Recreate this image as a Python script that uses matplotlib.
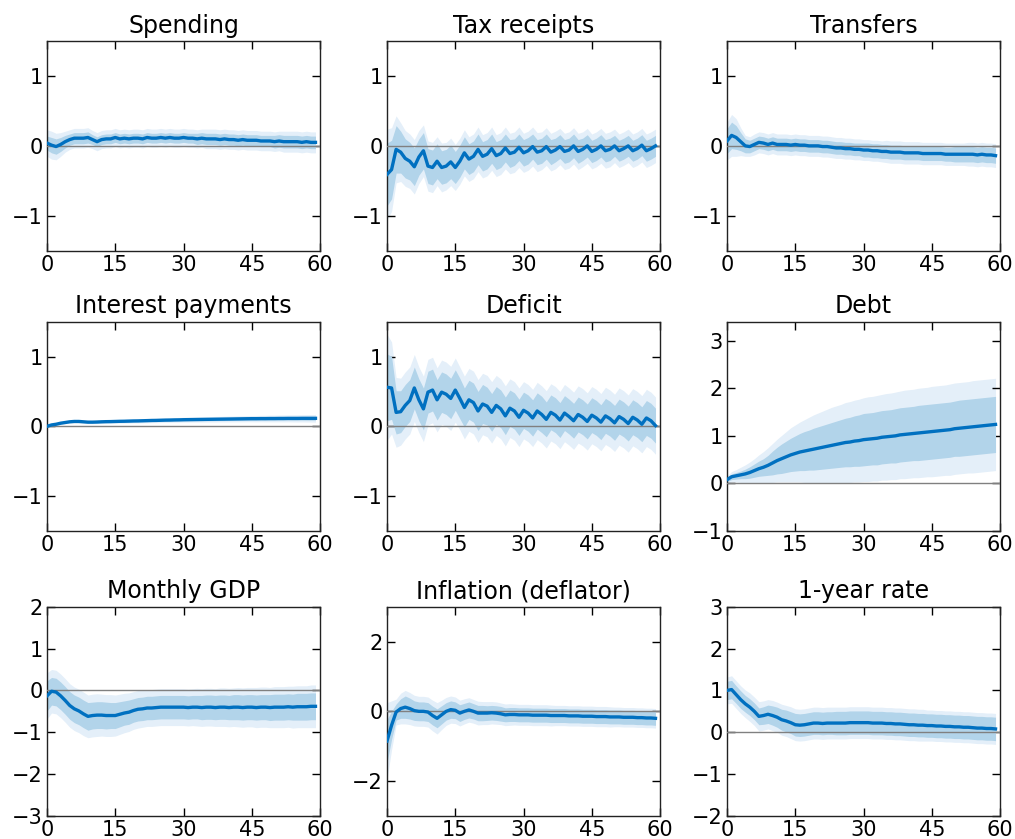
import numpy as np
import matplotlib.pyplot as plt

plt.rcParams['font.family'] = 'DejaVu Sans'
plt.rcParams['font.size'] = 15

# impulse responses by month, median and half-widths of the 68% / 90% bands
months = np.arange(60)

titles = ['Spending', 'Tax receipts', 'Transfers',
          'Interest payments', 'Deficit', 'Debt',
          'Monthly GDP', 'Inflation (deflator)', '1-year rate']

spending_med = [0.04, 0.01, -0.01, 0.02, 0.06, 0.09, 0.11, 0.11, 0.11, 0.12,
                0.09, 0.06, 0.09, 0.10, 0.10, 0.12, 0.10, 0.11, 0.10, 0.11,
                0.11, 0.10, 0.12, 0.11, 0.11, 0.12, 0.11, 0.12, 0.11, 0.11,
                0.12, 0.11, 0.11, 0.10, 0.11, 0.10, 0.10, 0.10, 0.09, 0.10,
                0.09, 0.09, 0.08, 0.09, 0.08, 0.08, 0.08, 0.07, 0.07, 0.07,
                0.06, 0.07, 0.06, 0.06, 0.06, 0.06, 0.05, 0.06, 0.05, 0.05]
spending_h68 = [0.10, 0.11, 0.11, 0.10, 0.09, 0.08, 0.08, 0.08, 0.08, 0.08,
                0.07, 0.07, 0.07, 0.07, 0.07, 0.07, 0.07, 0.07, 0.07, 0.07,
                0.07, 0.07, 0.07, 0.07, 0.07, 0.07, 0.07, 0.07, 0.07, 0.07,
                0.07, 0.07, 0.07, 0.08, 0.08, 0.08, 0.08, 0.08, 0.08, 0.08,
                0.08, 0.08, 0.08, 0.08, 0.08, 0.08, 0.08, 0.08, 0.08, 0.08,
                0.09, 0.09, 0.09, 0.09, 0.09, 0.09, 0.09, 0.09, 0.09, 0.09]
spending_h90 = [0.19, 0.20, 0.19, 0.17, 0.15, 0.14, 0.14, 0.14, 0.14, 0.14,
                0.13, 0.13, 0.13, 0.13, 0.13, 0.13, 0.13, 0.13, 0.13, 0.13,
                0.13, 0.13, 0.13, 0.13, 0.13, 0.13, 0.13, 0.13, 0.13, 0.13,
                0.13, 0.13, 0.13, 0.13, 0.13, 0.14, 0.14, 0.14, 0.14, 0.14,
                0.14, 0.14, 0.14, 0.14, 0.14, 0.14, 0.14, 0.14, 0.14, 0.14,
                0.14, 0.14, 0.15, 0.15, 0.15, 0.15, 0.15, 0.15, 0.15, 0.15]

tax_med = [-0.41, -0.34, -0.05, -0.09, -0.18, -0.22, -0.30, -0.16, -0.07, -0.29,
           -0.31, -0.22, -0.31, -0.29, -0.23, -0.31, -0.22, -0.10, -0.19, -0.15,
           -0.05, -0.15, -0.12, -0.04, -0.14, -0.11, -0.03, -0.11, -0.09, -0.02,
           -0.10, -0.07, -0.01, -0.09, -0.07, -0.01, -0.09, -0.06, -0.01, -0.08,
           -0.06, 0.00, -0.08, -0.05, 0.00, -0.08, -0.05, 0.00, -0.07, -0.05,
           0.00, -0.07, -0.04, 0.00, -0.07, -0.04, 0.01, -0.07, -0.04, 0.00]
tax_h68 = [0.45, 0.42, 0.34, 0.30, 0.28, 0.27, 0.27, 0.26, 0.26, 0.25,
           0.25, 0.25, 0.24, 0.24, 0.24, 0.23, 0.23, 0.23, 0.22, 0.22,
           0.22, 0.21, 0.21, 0.21, 0.20, 0.20, 0.20, 0.20, 0.19, 0.19,
           0.19, 0.19, 0.18, 0.18, 0.18, 0.18, 0.18, 0.17, 0.17, 0.17,
           0.17, 0.17, 0.17, 0.16, 0.16, 0.16, 0.16, 0.16, 0.16, 0.16,
           0.15, 0.15, 0.15, 0.15, 0.15, 0.15, 0.15, 0.15, 0.15, 0.15]
tax_h90 = [0.65, 0.60, 0.48, 0.42, 0.40, 0.39, 0.39, 0.38, 0.37, 0.36,
           0.36, 0.35, 0.35, 0.34, 0.34, 0.33, 0.33, 0.33, 0.32, 0.32,
           0.32, 0.31, 0.31, 0.31, 0.30, 0.30, 0.30, 0.29, 0.29, 0.29,
           0.28, 0.28, 0.28, 0.28, 0.27, 0.27, 0.27, 0.27, 0.26, 0.26,
           0.26, 0.26, 0.26, 0.25, 0.25, 0.25, 0.25, 0.25, 0.25, 0.25,
           0.24, 0.24, 0.24, 0.24, 0.24, 0.24, 0.24, 0.24, 0.24, 0.24]

transfers_med = [0.07, 0.15, 0.12, 0.06, 0.00, -0.01, 0.02, 0.05, 0.04, 0.02,
                 0.04, 0.02, 0.02, 0.02, 0.01, 0.02, 0.01, 0.01, 0.00, 0.00,
                 0.00, -0.01, -0.01, -0.02, -0.03, -0.03, -0.04, -0.04, -0.05, -0.05,
                 -0.06, -0.06, -0.07, -0.07, -0.08, -0.08, -0.09, -0.09, -0.09, -0.10,
                 -0.10, -0.10, -0.10, -0.11, -0.11, -0.11, -0.11, -0.11, -0.12, -0.12,
                 -0.12, -0.12, -0.12, -0.12, -0.12, -0.13, -0.12, -0.13, -0.13, -0.14]
transfers_h68 = [0.18, 0.19, 0.17, 0.13, 0.10, 0.09, 0.09, 0.09, 0.09, 0.09,
                 0.09, 0.09, 0.09, 0.09, 0.09, 0.09, 0.09, 0.09, 0.09, 0.09,
                 0.09, 0.09, 0.09, 0.09, 0.09, 0.09, 0.09, 0.09, 0.09, 0.09,
                 0.10, 0.10, 0.10, 0.10, 0.10, 0.10, 0.10, 0.10, 0.10, 0.10,
                 0.10, 0.10, 0.10, 0.10, 0.10, 0.10, 0.10, 0.10, 0.10, 0.10,
                 0.11, 0.11, 0.11, 0.11, 0.11, 0.11, 0.11, 0.11, 0.11, 0.11]
transfers_h90 = [0.27, 0.30, 0.27, 0.20, 0.15, 0.14, 0.15, 0.15, 0.15, 0.15,
                 0.15, 0.15, 0.15, 0.15, 0.15, 0.15, 0.15, 0.15, 0.15, 0.15,
                 0.15, 0.15, 0.15, 0.15, 0.15, 0.15, 0.15, 0.15, 0.15, 0.15,
                 0.15, 0.15, 0.15, 0.15, 0.15, 0.16, 0.16, 0.16, 0.16, 0.16,
                 0.16, 0.16, 0.16, 0.16, 0.16, 0.16, 0.16, 0.16, 0.16, 0.16,
                 0.16, 0.16, 0.16, 0.17, 0.17, 0.17, 0.17, 0.17, 0.17, 0.17]

interest_med = [0.00, 0.02, 0.03, 0.045, 0.055, 0.065, 0.07, 0.07, 0.065, 0.06,
                0.06, 0.062, 0.065, 0.067, 0.068, 0.07, 0.072, 0.073, 0.075, 0.077,
                0.078, 0.08, 0.082, 0.084, 0.085, 0.087, 0.089, 0.09, 0.092, 0.093,
                0.095, 0.096, 0.097, 0.098, 0.099, 0.10, 0.101, 0.102, 0.103, 0.104,
                0.105, 0.106, 0.107, 0.108, 0.109, 0.11, 0.11, 0.111, 0.111, 0.112,
                0.112, 0.113, 0.113, 0.114, 0.114, 0.114, 0.115, 0.115, 0.115, 0.115]
interest_h68 = [0.003, 0.005, 0.006, 0.007, 0.008, 0.009, 0.010, 0.010, 0.010, 0.010,
                0.011, 0.011, 0.012, 0.012, 0.012, 0.013, 0.013, 0.013, 0.014, 0.014,
                0.014, 0.015, 0.015, 0.015, 0.016, 0.016, 0.016, 0.017, 0.017, 0.017,
                0.018, 0.018, 0.018, 0.019, 0.019, 0.019, 0.020, 0.020, 0.020, 0.021,
                0.021, 0.021, 0.022, 0.022, 0.022, 0.023, 0.023, 0.023, 0.024, 0.024,
                0.024, 0.025, 0.025, 0.025, 0.026, 0.026, 0.026, 0.027, 0.027, 0.027]
interest_h90 = [0.006, 0.010, 0.012, 0.014, 0.016, 0.017, 0.018, 0.019, 0.019, 0.020,
                0.021, 0.022, 0.022, 0.023, 0.024, 0.025, 0.025, 0.026, 0.027, 0.027,
                0.028, 0.029, 0.030, 0.030, 0.031, 0.032, 0.032, 0.033, 0.034, 0.034,
                0.035, 0.036, 0.036, 0.037, 0.038, 0.038, 0.039, 0.040, 0.040, 0.041,
                0.042, 0.042, 0.043, 0.044, 0.044, 0.045, 0.046, 0.046, 0.047, 0.048,
                0.048, 0.049, 0.050, 0.050, 0.051, 0.052, 0.052, 0.053, 0.054, 0.055]

deficit_med = [0.56, 0.55, 0.20, 0.21, 0.30, 0.37, 0.55, 0.38, 0.25, 0.49,
               0.52, 0.38, 0.49, 0.46, 0.40, 0.52, 0.40, 0.27, 0.38, 0.34,
               0.22, 0.32, 0.29, 0.20, 0.30, 0.25, 0.15, 0.26, 0.22, 0.13,
               0.23, 0.19, 0.12, 0.22, 0.17, 0.10, 0.20, 0.16, 0.09, 0.19,
               0.14, 0.08, 0.17, 0.13, 0.07, 0.16, 0.12, 0.06, 0.15, 0.11,
               0.05, 0.14, 0.10, 0.04, 0.13, 0.09, 0.03, 0.12, 0.08, 0.01]
deficit_h68 = [0.48, 0.45, 0.31, 0.30, 0.30, 0.30, 0.30, 0.30, 0.30, 0.30,
               0.30, 0.29, 0.29, 0.29, 0.29, 0.29, 0.29, 0.28, 0.28, 0.28,
               0.28, 0.28, 0.27, 0.27, 0.27, 0.27, 0.27, 0.26, 0.26, 0.26,
               0.26, 0.26, 0.26, 0.26, 0.26, 0.25, 0.25, 0.25, 0.25, 0.25,
               0.25, 0.25, 0.25, 0.25, 0.25, 0.25, 0.25, 0.25, 0.25, 0.25,
               0.25, 0.25, 0.25, 0.25, 0.25, 0.25, 0.25, 0.25, 0.25, 0.25]
deficit_h90 = [0.76, 0.66, 0.50, 0.48, 0.48, 0.48, 0.48, 0.47, 0.47, 0.47,
               0.47, 0.46, 0.46, 0.46, 0.46, 0.46, 0.45, 0.45, 0.45, 0.45,
               0.45, 0.44, 0.44, 0.44, 0.43, 0.43, 0.43, 0.42, 0.42, 0.42,
               0.41, 0.41, 0.41, 0.41, 0.41, 0.41, 0.41, 0.41, 0.41, 0.41,
               0.41, 0.41, 0.41, 0.41, 0.41, 0.41, 0.41, 0.41, 0.41, 0.41,
               0.41, 0.41, 0.41, 0.41, 0.41, 0.41, 0.41, 0.41, 0.41, 0.41]

debt_med = [0.08, 0.14, 0.16, 0.18, 0.20, 0.23, 0.27, 0.31, 0.34, 0.38,
            0.43, 0.48, 0.52, 0.56, 0.60, 0.63, 0.66, 0.68, 0.70, 0.72,
            0.74, 0.76, 0.78, 0.80, 0.82, 0.84, 0.86, 0.87, 0.89, 0.90,
            0.92, 0.93, 0.94, 0.95, 0.97, 0.98, 0.99, 1.00, 1.02, 1.03,
            1.04, 1.05, 1.06, 1.07, 1.08, 1.09, 1.10, 1.11, 1.12, 1.13,
            1.15, 1.16, 1.17, 1.18, 1.19, 1.20, 1.21, 1.22, 1.23, 1.24]
debt_h68 = [0.04, 0.06, 0.07, 0.08, 0.10, 0.12, 0.14, 0.16, 0.18, 0.21,
            0.25, 0.28, 0.31, 0.33, 0.35, 0.37, 0.39, 0.41, 0.42, 0.44,
            0.45, 0.46, 0.47, 0.48, 0.49, 0.50, 0.51, 0.52, 0.53, 0.54,
            0.55, 0.55, 0.55, 0.56, 0.56, 0.56, 0.56, 0.57, 0.57, 0.57,
            0.57, 0.57, 0.58, 0.58, 0.58, 0.58, 0.58, 0.58, 0.58, 0.58,
            0.58, 0.59, 0.59, 0.59, 0.59, 0.59, 0.59, 0.59, 0.59, 0.59]
debt_h90 = [0.08, 0.11, 0.13, 0.16, 0.19, 0.22, 0.25, 0.29, 0.33, 0.37,
            0.41, 0.45, 0.49, 0.53, 0.57, 0.60, 0.63, 0.66, 0.69, 0.72,
            0.74, 0.76, 0.78, 0.80, 0.81, 0.82, 0.84, 0.85, 0.86, 0.87,
            0.88, 0.89, 0.89, 0.90, 0.90, 0.91, 0.91, 0.92, 0.92, 0.93,
            0.93, 0.93, 0.94, 0.94, 0.94, 0.95, 0.95, 0.95, 0.95, 0.96,
            0.96, 0.96, 0.96, 0.96, 0.97, 0.97, 0.97, 0.97, 0.97, 0.97]

gdp_med = [-0.13, -0.02, -0.04, -0.13, -0.24, -0.36, -0.44, -0.49, -0.56, -0.62,
           -0.60, -0.59, -0.59, -0.60, -0.60, -0.60, -0.57, -0.54, -0.52, -0.48,
           -0.45, -0.44, -0.42, -0.42, -0.41, -0.40, -0.40, -0.40, -0.40, -0.40,
           -0.40, -0.41, -0.40, -0.40, -0.41, -0.40, -0.40, -0.41, -0.40, -0.40,
           -0.41, -0.40, -0.40, -0.41, -0.40, -0.40, -0.41, -0.40, -0.40, -0.41,
           -0.40, -0.40, -0.40, -0.39, -0.40, -0.39, -0.39, -0.39, -0.38, -0.38]
gdp_h68 = [0.36, 0.33, 0.33, 0.33, 0.33, 0.33, 0.33, 0.33, 0.33, 0.33,
           0.32, 0.32, 0.32, 0.32, 0.31, 0.31, 0.30, 0.29, 0.29, 0.28,
           0.28, 0.28, 0.28, 0.28, 0.28, 0.28, 0.28, 0.28, 0.28, 0.28,
           0.28, 0.28, 0.28, 0.28, 0.29, 0.29, 0.29, 0.29, 0.29, 0.29,
           0.29, 0.30, 0.30, 0.30, 0.30, 0.30, 0.30, 0.30, 0.30, 0.31,
           0.31, 0.31, 0.31, 0.31, 0.31, 0.32, 0.32, 0.32, 0.32, 0.32]
gdp_h90 = [0.55, 0.52, 0.52, 0.52, 0.52, 0.52, 0.52, 0.52, 0.52, 0.51,
           0.51, 0.51, 0.50, 0.50, 0.50, 0.49, 0.48, 0.47, 0.46, 0.45,
           0.45, 0.44, 0.44, 0.44, 0.44, 0.44, 0.44, 0.44, 0.44, 0.44,
           0.44, 0.44, 0.44, 0.45, 0.45, 0.45, 0.45, 0.45, 0.46, 0.46,
           0.46, 0.46, 0.47, 0.47, 0.47, 0.47, 0.48, 0.48, 0.48, 0.48,
           0.49, 0.49, 0.49, 0.49, 0.50, 0.50, 0.50, 0.50, 0.51, 0.51]

infl_med = [-0.85, -0.40, -0.02, 0.08, 0.12, 0.08, 0.02, 0.00, 0.00, -0.02,
            -0.12, -0.20, -0.10, 0.00, 0.05, 0.03, -0.05, 0.00, 0.04, 0.00,
            -0.05, -0.05, -0.05, -0.04, -0.05, -0.07, -0.10, -0.09, -0.09, -0.10,
            -0.10, -0.10, -0.11, -0.11, -0.11, -0.11, -0.12, -0.12, -0.12, -0.12,
            -0.13, -0.13, -0.13, -0.14, -0.14, -0.14, -0.15, -0.15, -0.15, -0.16,
            -0.16, -0.16, -0.17, -0.17, -0.17, -0.18, -0.18, -0.19, -0.19, -0.20]
infl_h68 = [0.62, 0.40, 0.23, 0.28, 0.32, 0.30, 0.28, 0.27, 0.27, 0.27,
            0.27, 0.27, 0.26, 0.25, 0.25, 0.24, 0.24, 0.23, 0.23, 0.22,
            0.22, 0.22, 0.21, 0.21, 0.21, 0.21, 0.20, 0.20, 0.20, 0.20,
            0.20, 0.20, 0.20, 0.20, 0.20, 0.20, 0.20, 0.20, 0.20, 0.20,
            0.20, 0.20, 0.20, 0.20, 0.20, 0.20, 0.20, 0.20, 0.20, 0.20,
            0.20, 0.20, 0.20, 0.20, 0.20, 0.20, 0.20, 0.20, 0.20, 0.20]
infl_h90 = [1.10, 0.70, 0.37, 0.44, 0.48, 0.46, 0.44, 0.43, 0.43, 0.43,
            0.44, 0.45, 0.42, 0.40, 0.39, 0.38, 0.37, 0.36, 0.35, 0.34,
            0.34, 0.33, 0.33, 0.32, 0.32, 0.31, 0.31, 0.31, 0.30, 0.30,
            0.30, 0.30, 0.30, 0.30, 0.30, 0.30, 0.30, 0.29, 0.29, 0.29,
            0.29, 0.29, 0.29, 0.29, 0.29, 0.29, 0.29, 0.29, 0.29, 0.29,
            0.28, 0.28, 0.28, 0.28, 0.28, 0.28, 0.28, 0.28, 0.28, 0.28]

rate_med = [1.00, 1.02, 0.90, 0.78, 0.68, 0.60, 0.50, 0.38, 0.40, 0.43,
            0.40, 0.36, 0.30, 0.27, 0.23, 0.18, 0.17, 0.18, 0.20, 0.22,
            0.22, 0.21, 0.22, 0.22, 0.22, 0.22, 0.22, 0.23, 0.23, 0.23,
            0.23, 0.23, 0.22, 0.22, 0.22, 0.21, 0.21, 0.20, 0.20, 0.19,
            0.18, 0.18, 0.17, 0.17, 0.16, 0.16, 0.15, 0.15, 0.14, 0.14,
            0.13, 0.13, 0.12, 0.12, 0.11, 0.10, 0.10, 0.09, 0.09, 0.08]
rate_h68 = [0.22, 0.22, 0.21, 0.21, 0.20, 0.20, 0.20, 0.20, 0.21, 0.22,
            0.23, 0.24, 0.25, 0.26, 0.26, 0.27, 0.27, 0.27, 0.27, 0.27,
            0.27, 0.27, 0.27, 0.27, 0.28, 0.28, 0.28, 0.28, 0.28, 0.28,
            0.28, 0.28, 0.28, 0.28, 0.28, 0.28, 0.28, 0.28, 0.28, 0.28,
            0.28, 0.28, 0.28, 0.28, 0.28, 0.28, 0.28, 0.28, 0.28, 0.28,
            0.28, 0.28, 0.28, 0.28, 0.28, 0.28, 0.28, 0.28, 0.28, 0.28]
rate_h90 = [0.32, 0.33, 0.33, 0.33, 0.33, 0.34, 0.34, 0.35, 0.35, 0.35,
            0.36, 0.36, 0.37, 0.37, 0.38, 0.38, 0.38, 0.38, 0.38, 0.38,
            0.38, 0.38, 0.38, 0.38, 0.38, 0.38, 0.38, 0.38, 0.38, 0.38,
            0.38, 0.38, 0.38, 0.38, 0.38, 0.38, 0.38, 0.38, 0.38, 0.38,
            0.38, 0.38, 0.38, 0.38, 0.37, 0.37, 0.37, 0.37, 0.37, 0.37,
            0.37, 0.37, 0.37, 0.37, 0.37, 0.37, 0.37, 0.37, 0.37, 0.37]

medians = [spending_med, tax_med, transfers_med, interest_med, deficit_med,
           debt_med, gdp_med, infl_med, rate_med]
bands68 = [spending_h68, tax_h68, transfers_h68, interest_h68, deficit_h68,
           debt_h68, gdp_h68, infl_h68, rate_h68]
bands90 = [spending_h90, tax_h90, transfers_h90, interest_h90, deficit_h90,
           debt_h90, gdp_h90, infl_h90, rate_h90]

ylims = [(-1.5, 1.5), (-1.5, 1.5), (-1.5, 1.5),
         (-1.5, 1.5), (-1.5, 1.5), (-1, 3.4),
         (-3, 2), (-3, 3), (-2, 3)]
yticks = [[-1, 0, 1], [-1, 0, 1], [-1, 0, 1],
          [-1, 0, 1], [-1, 0, 1], [-1, 0, 1, 2, 3],
          [-3, -2, -1, 0, 1, 2], [-2, 0, 2], [-2, -1, 0, 1, 2, 3]]

line_color = '#0070c0'
dark_band = '#b2d4ea'
light_band = '#e4eff9'

fig = plt.figure(figsize=(10.15, 8.39), dpi=100)

# axes boxes in figure fractions
lefts = [0.0463, 0.3813, 0.7163]
bottoms = [0.7014, 0.3671, 0.0274]
width, height = 0.269, 0.2495

for i, title in enumerate(titles):
    row, col = divmod(i, 3)
    ax = fig.add_axes([lefts[col], bottoms[row], width, height])
    med = np.array(medians[i])
    h68 = np.array(bands68[i])
    h90 = np.array(bands90[i])

    ax.fill_between(months, med - h90, med + h90, color=light_band, lw=0, zorder=1)
    ax.fill_between(months, med - h68, med + h68, color=dark_band, lw=0, zorder=2)
    ax.axhline(0, color='#808080', lw=1, zorder=3)
    ax.plot(months, med, color=line_color, lw=2.4, zorder=4)

    ax.set_xlim(0, 60)
    ax.set_xticks([0, 15, 30, 45, 60])
    ax.set_ylim(*ylims[i])
    ax.set_yticks(yticks[i])
    ax.set_title(title, fontsize=17, pad=6)
    ax.tick_params(direction='in', top=True, right=True, length=6,
                   width=1, labelsize=15, pad=3)
    for s in ax.spines.values():
        s.set_color('#222222')
        s.set_linewidth(1)

fig.savefig('out.png', dpi=100)
